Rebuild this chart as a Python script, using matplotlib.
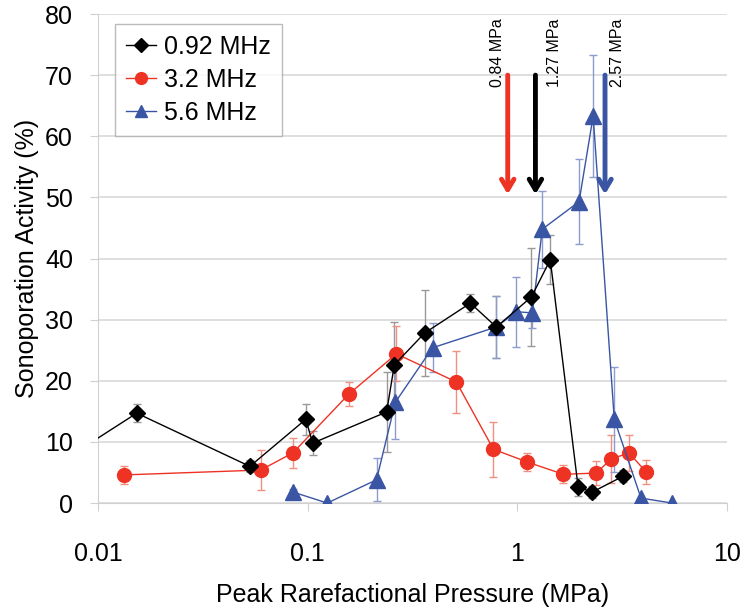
import numpy as np
import matplotlib
matplotlib.use("Agg")
import matplotlib.pyplot as plt

plt.rcParams['font.family'] = ['Liberation Sans', 'DejaVu Sans']

# 0.92 MHz (first point lies left of the axis, only its line shows)
x_092 = [0.008, 0.0153, 0.053, 0.098, 0.1056, 0.238, 0.259, 0.361, 0.597, 0.794, 1.167, 1.436, 1.95, 2.28, 3.2]
y_092 = [8.5, 14.7, 6.0, 13.7, 9.8, 14.9, 22.6, 27.8, 32.7, 28.8, 33.7, 39.8, 2.6, 1.8, 4.4]
e_092 = [0, 1.5, 1.0, 2.5, 2.0, 6.5, 7.0, 7.0, 1.5, 5.0, 8.0, 4.0, 1.5, 1.0, 1.0]

# 3.2 MHz
x_32 = [0.0133, 0.0597, 0.085, 0.157, 0.265, 0.512, 0.769, 1.117, 1.66, 2.38, 2.8, 3.41, 4.11]
y_32 = [4.6, 5.4, 8.2, 17.8, 24.4, 19.8, 8.8, 6.7, 4.7, 4.9, 7.2, 8.2, 5.1]
e_32 = [1.5, 3.2, 2.5, 2.0, 4.5, 5.0, 4.5, 1.5, 1.5, 2.0, 4.0, 3.0, 2.0]

# 5.6 MHz
x_56 = [0.085, 0.124, 0.213, 0.262, 0.394, 0.794, 0.989, 1.18, 1.315, 1.97, 2.3, 2.9, 3.89, 5.47]
y_56 = [1.8, 0.0, 3.8, 16.5, 25.4, 28.8, 31.3, 31.1, 44.8, 49.3, 63.3, 13.7, 0.8, 0.0]
e_56 = [0.5, 0, 3.5, 6.0, 4.0, 5.0, 5.7, 2.5, 6.3, 7.0, 10.0, 8.6, 0, 0]

# threshold arrows
arrow_x = [0.9, 1.22, 2.62]
arrow_txt = ["0.84 MPa", "1.27 MPa", "2.57 MPa"]
arrow_txt_x = [0.8, 1.5, 3.0]
arrow_col = ['#ee3324', 'black', '#3a55a4']

xticks = [0.01, 0.1, 1, 10]
xtick_labels = ["0.01", "0.1", "1", "10"]

fig = plt.figure(figsize=(7.5, 6.09), dpi=100)
ax = fig.add_axes([0.1307, 0.174, 0.8386, 0.803])

ax.errorbar(x_092, y_092, yerr=e_092, fmt='none', ecolor='#999999', elinewidth=1, capsize=3, zorder=2)
ax.errorbar(x_32, y_32, yerr=e_32, fmt='none', ecolor='#f09080', elinewidth=1, capsize=3, zorder=2)
ax.errorbar(x_56, y_56, yerr=e_56, fmt='none', ecolor='#8c9ccc', elinewidth=1, capsize=3, zorder=2)

ax.plot(x_092, y_092, '-D', color='black', lw=1, ms=8, label='0.92 MHz', zorder=4)
ax.plot(x_32, y_32, '-o', color='#ee3324', lw=1, ms=10, label='3.2 MHz', zorder=3)
ax.plot(x_56, y_56, '-^', color='#3a55a4', mfc='#3a55a4', lw=1, ms=11, label='5.6 MHz', zorder=3)

for xa, t, xt, c in zip(arrow_x, arrow_txt, arrow_txt_x, arrow_col):
    ax.annotate('', xy=(xa, 50.5), xytext=(xa, 70),
                arrowprops=dict(arrowstyle='->,head_length=0.75,head_width=0.45',
                                color=c, lw=3.5, shrinkA=0, shrinkB=0), zorder=5)
    ax.text(xt, 68, t, rotation=90, ha='center', va='bottom', fontsize=11.5,
            clip_on=False)

ax.set_xscale('log')
ax.set_xlim(0.01, 10)
ax.set_ylim(0, 80)
ax.set_xticks(xticks)
ax.set_xticklabels(xtick_labels)
ax.xaxis.set_minor_locator(matplotlib.ticker.NullLocator())
ax.set_yticks(np.arange(0, 81, 10))

ax.grid(axis='y', color='#d9d9d9', lw=1.2)
ax.set_axisbelow(True)
for s in ['top', 'right']:
    ax.spines[s].set_visible(False)
for s in ['left', 'bottom']:
    ax.spines[s].set_color('#d0d0d0')
ax.tick_params(axis='both', colors='#d0d0d0', labelcolor='black', labelsize=18, length=6)
ax.tick_params(axis='x', pad=22)
ax.tick_params(axis='y', pad=12)

ax.set_xlabel('Peak Rarefactional Pressure (MPa)', fontsize=18, labelpad=12)
ax.set_ylabel('Sonoporation Activity (%)', fontsize=18, labelpad=4)

leg = ax.legend(loc='upper left', bbox_to_anchor=(0.027, 0.98), borderaxespad=0,
                fontsize=18, fancybox=False, edgecolor='#aaaaaa', handlelength=1.2,
                handletextpad=0.3, labelspacing=0.35, borderpad=0.45, markerscale=0.85)
leg.get_frame().set_linewidth(1)

fig.savefig('out.png', dpi=100)
